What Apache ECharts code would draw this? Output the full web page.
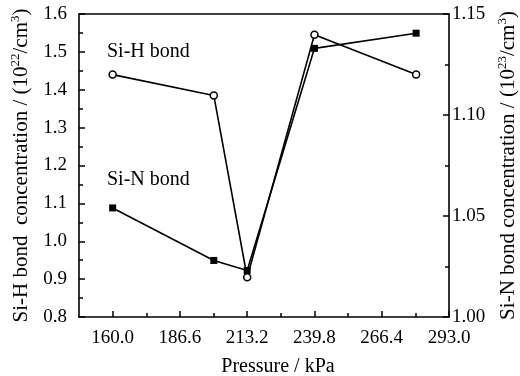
<!DOCTYPE html>
<html><head><meta charset="utf-8">
<script src="https://cdn.jsdelivr.net/npm/echarts@6/dist/echarts.min.js"></script>
<style>html,body{margin:0;padding:0;background:#fff}#c{width:520px;height:376px}</style>
</head><body><div id="c"></div>
<script>
const pressure = [160.0, 200.0, 213.2, 239.8, 280.0];
const siH = [1.44, 1.385, 0.905, 1.545, 1.44];
const siN = [1.054, 1.028, 1.023, 1.133, 1.1405];
const xTicks = [160.0, 186.6, 213.2, 239.8, 266.4, 293.0];
const xMinorTicks = [173.3, 199.9, 226.5, 253.1, 279.7];
const leftMinorTicks = [0.85, 0.95, 1.05, 1.15, 1.25, 1.35, 1.45, 1.55];
const rightMinorTicks = [1.025, 1.075, 1.125];
const xTitle = 'Pressure / kPa';
const seriesLabels = ['Si-H bond', 'Si-N bond'];

const FONT = 'Liberation Serif';
const chart = echarts.init(document.getElementById('c'));
const axisLine = {show: true, onZero: false, lineStyle: {color: '#000', width: 1.6}};
const tickStyle = {color: '#000', width: 1.5};
const rich = {
  a: {fontFamily: FONT, fontSize: 21, color: '#000', lineHeight: 25},
  s: {fontFamily: FONT, fontSize: 13, color: '#000', lineHeight: 25, verticalAlign: 'top', padding: [0, 0, 9, 0]}
};
const minorAxis = (pos, min, max, vals) => ({
  type: 'value', min: min, max: max, position: pos,
  axisLine: {show: false},
  axisTick: {show: true, inside: true, length: 4, customValues: vals, lineStyle: tickStyle},
  axisLabel: {show: false}, splitLine: {show: false}
});
chart.setOption({
  animation: false,
  grid: {left: 79, right: 71, top: 14, bottom: 59, outerBoundsMode: 'none', containLabel: false},
  xAxis: [{
    type: 'value', min: 146.7, max: 293.0, position: 'bottom',
    axisLine: axisLine,
    axisTick: {show: true, inside: true, length: 6, customValues: xTicks, lineStyle: tickStyle},
    axisLabel: {show: true, customValues: xTicks, color: '#000', fontFamily: FONT, fontSize: 19, margin: 12, formatter: v => v.toFixed(1)},
    splitLine: {show: false},
    name: xTitle, nameLocation: 'middle', nameGap: 40,
    nameTextStyle: {color: '#000', fontFamily: FONT, fontSize: 20, padding: [0, 0, 0, 28]}
  }, {
    type: 'value', min: 146.7, max: 293.0, position: 'top',
    axisLine: axisLine,
    axisTick: {show: false}, axisLabel: {show: false}, splitLine: {show: false}
  }, minorAxis('bottom', 146.7, 293.0, xMinorTicks)],
  yAxis: [{
    type: 'value', min: 0.8, max: 1.6, interval: 0.1, position: 'left',
    axisLine: axisLine,
    axisTick: {show: true, inside: true, length: 6, lineStyle: tickStyle},
    axisLabel: {color: '#000', fontFamily: FONT, fontSize: 19, margin: 12, formatter: v => v.toFixed(1)},
    splitLine: {show: false},
    name: '{a|Si-H bond  concentration / (10}{s|22}{a|/cm}{s|3}{a|)}',
    nameLocation: 'middle', nameGap: 32, nameRotate: 90,
    nameTextStyle: {rich: rich}
  }, {
    type: 'value', min: 1.00, max: 1.15, interval: 0.05, position: 'right',
    axisLine: axisLine,
    axisTick: {show: true, inside: true, length: 6, lineStyle: tickStyle},
    axisLabel: {color: '#000', fontFamily: FONT, fontSize: 19, margin: 3, formatter: v => v.toFixed(2)},
    splitLine: {show: false},
    name: '{a|Si-N bond concentration / (10}{s|23}{a|/cm}{s|3}{a|)}',
    nameLocation: 'middle', nameGap: 38, nameRotate: 90,
    nameTextStyle: {rich: rich}
  }, minorAxis('left', 0.8, 1.6, leftMinorTicks), minorAxis('right', 1.00, 1.15, rightMinorTicks)],
  graphic: [
    {type: 'text', left: 107, top: 42, style: {text: seriesLabels[0], font: '20px "Liberation Serif"', fill: '#000'}},
    {type: 'text', left: 107, top: 170, style: {text: seriesLabels[1], font: '20px "Liberation Serif"', fill: '#000'}}
  ],
  series: [{
    name: seriesLabels[1],
    type: 'line', xAxisIndex: 0, yAxisIndex: 1, data: pressure.map((p, i) => [p, siN[i]]),
    symbol: 'rect', symbolSize: 7, z: 2,
    lineStyle: {color: '#000', width: 1.6}, itemStyle: {color: '#000'}
  }, {
    name: seriesLabels[0],
    type: 'line', xAxisIndex: 0, yAxisIndex: 0, data: pressure.map((p, i) => [p, siH[i]]),
    symbol: 'circle', symbolSize: 7, z: 3,
    lineStyle: {color: '#000', width: 1.6}, itemStyle: {color: '#fff', borderColor: '#000', borderWidth: 1.5}
  }]
});
</script></body></html>
